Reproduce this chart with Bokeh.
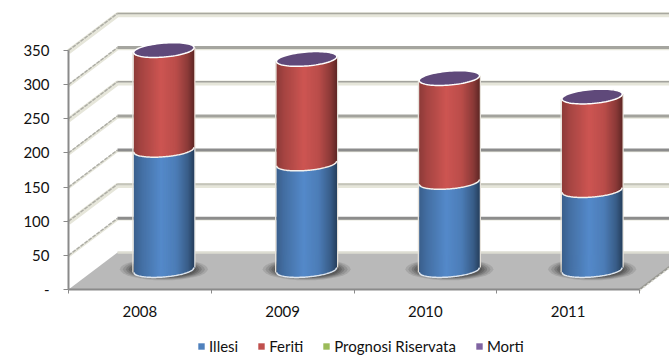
import numpy as np
from bokeh.embed import file_html
from bokeh.resources import INLINE
from bokeh.plotting import figure
from bokeh.models import Range1d, FixedTicker, Legend, LegendItem, LinearAxis

# Chart data
years = ["2008", "2009", "2010", "2011"]
illesi = [176, 156, 129, 117]
feriti = [145, 152, 151, 136]
prognosi = [0, 0, 0, 0]
morti = [1, 1, 1, 1]
value_ticks = [0, 50, 100, 150, 200, 250, 300, 350]

series_names = ["Illesi", "Feriti", "Prognosi Riservata", "Morti"]
series_colors = ["#4F81BD", "#C0504D", "#9BBB59", "#8064A2"]

# Plot geometry: one category is 142.75 px wide, one value unit 0.683 px tall
CAT_PX, VAL_PX = 142.75, 0.683
ORIGIN_X, ORIGIN_Y = 68, 289
DEPTH_X, DEPTH_Y = 49 / CAT_PX, 37 / VAL_PX
RADIUS = 30.2 / CAT_PX
ELL_B, ELL_TILT = 7.0 / VAL_PX, 2.4 / VAL_PX
X_END = (669 - ORIGIN_X) / CAT_PX

p = figure(width=669, height=355, output_backend="svg", toolbar_location=None,
           x_range=Range1d(-ORIGIN_X / CAT_PX, X_END),
           y_range=Range1d(-(355 - ORIGIN_Y) / VAL_PX, ORIGIN_Y / VAL_PX),
           x_axis_location=None, y_axis_location=None,
           min_border=0)
p.outline_line_color = None
p.grid.visible = False

# Wall gridlines: (dark colour, dark width, pale width) per level
grid_styles = {
    50: ("#8c8c8c", 3, 1),
    100: ("#c4c4ba", 2, 4),
    150: ("#8c8c8c", 3, 1),
    200: ("#a3a39d", 3, 2),
    250: ("#a3a39d", 1.5, 4),
    300: ("#a5a59f", 3, 2),
    350: ("#a8a89f", 1.5, 4),
}
for level, (dark, w_dark, w_pale) in grid_styles.items():
    xs = [0, DEPTH_X, X_END]
    ys = [level, level + DEPTH_Y, level + DEPTH_Y]
    p.line(xs, [y - 1.8 for y in ys], line_color="#e6e6da", line_width=w_pale + 1)
    p.line(xs[:2], ys[:2], line_color="#aeaea6", line_width=1.5, line_dash="4 1")
    p.line(xs[1:], ys[1:], line_color=dark, line_width=w_dark)

# Floor
floor_right = (X_END - 4) * DEPTH_Y / DEPTH_X
p.patch([0, DEPTH_X, X_END, X_END, 4], [0, DEPTH_Y, DEPTH_Y, floor_right, 0],
        fill_color="#b9b9b9", line_color=None)
p.line([DEPTH_X, X_END], [DEPTH_Y, DEPTH_Y], line_color="#dcdcd2", line_width=2.5)
p.line([4, X_END], [0, floor_right], line_color="#9a9a94", line_width=2)
p.line([4, X_END], [-1.5, floor_right - 1.5], line_color="#dcdcd2", line_width=1.5, line_dash="2 3")

left_axis = LinearAxis(ticker=FixedTicker(ticks=value_ticks), bounds=(0, 350),
                       fixed_location=0, major_label_overrides={0: "-"})
left_axis.axis_line_color = "#8a8a8a"
left_axis.axis_line_width = 2
left_axis.major_tick_line_color = "#8a8a8a"
left_axis.major_tick_out = 5
left_axis.major_tick_in = 0
left_axis.minor_tick_line_color = None
left_axis.major_label_standoff = 14
left_axis.major_label_text_font = "Lato"
left_axis.major_label_text_font_size = "15px"
left_axis.major_label_text_color = "#111111"
p.add_layout(left_axis, "left")

bottom_axis = LinearAxis(ticker=FixedTicker(ticks=[i + 0.5 for i in range(4)],
                                            minor_ticks=[0, 1, 2, 3, 4]),
                         bounds=(0, 4), fixed_location=0,
                         major_label_overrides={i + 0.5: y for i, y in enumerate(years)})
bottom_axis.axis_line_color = "#8a8a8a"
bottom_axis.axis_line_width = 2
bottom_axis.major_tick_line_color = None
bottom_axis.minor_tick_line_color = "#8a8a8a"
bottom_axis.minor_tick_out = 4
bottom_axis.minor_tick_in = 0
bottom_axis.major_label_standoff = 10
bottom_axis.major_label_text_font = "Lato"
bottom_axis.major_label_text_font_size = "15px"
bottom_axis.major_label_text_color = "#111111"
p.add_layout(bottom_axis, "below")


def shaded(color, factor):
    rgb = [int(color[k:k + 2], 16) for k in (1, 3, 5)]
    return "#%02x%02x%02x" % tuple(int(np.clip(c * factor, 0, 255)) for c in rgb)


def front_arc(u, level):
    """Value coordinate of the near edge of a disc at the given height."""
    return level - ELL_B * np.sqrt(np.clip(1 - u ** 2, 0, 1)) + ELL_TILT * u


def body(cx, low, high, color):
    # Painted left to right, each band reaching the far edge, so no seams show
    edges = np.linspace(-1, 1, 61)
    xs, ys, fills = [], [], []
    for u0, u1 in zip(edges[:-1], edges[1:]):
        uu = np.linspace(u0, 1, 40)
        xs.append(list(cx + RADIUS * uu) + list(cx + RADIUS * uu[::-1]))
        ys.append(list(front_arc(uu, high)) + list(front_arc(uu[::-1], low)))
        m = (u0 + u1) / 2
        f = np.interp(m, [-1, -0.75, -0.1, 0.4, 0.8, 1], [0.74, 0.86, 1.07, 0.97, 0.72, 0.5])
        fills.append(shaded(color, f))
    p.patches(xs, ys, fill_color=fills, line_color=None)


# Columns stand at mid depth of the floor, nudged to sit on its visual centre
base = DEPTH_Y / 2 + 1 / VAL_PX
centers = np.arange(4) + 0.5 + DEPTH_X / 2 - 0.5 / CAT_PX

# Shadows on the floor
for cx in centers:
    for scale, alpha in [(1.0, 0.14), (0.93, 0.18), (0.86, 0.24), (0.8, 0.3), (0.74, 0.36)]:
        p.ellipse([cx], [base + 1], width=2 * 44 / CAT_PX * scale, height=2 * 11 / VAL_PX * scale,
                  fill_color="#3c3c3c", fill_alpha=alpha, line_color=None)

# Series blocks inside the cylinders; they also provide the legend keys
legend_refs = {}
cumulative = np.full(4, float(base))
for name, color, values in zip(series_names, series_colors, [illesi, feriti, prognosi, morti]):
    highs = cumulative + np.array(values)
    legend_refs[name] = p.quad(left=centers - RADIUS * 0.5, right=centers + RADIUS * 0.5,
                               bottom=cumulative, top=highs, fill_color=color, line_color=None)
    cumulative = highs

# Cylinders
uu = np.linspace(-1, 1, 61)
tt = np.linspace(0, 2 * np.pi, 81)
for i, cx in enumerate(centers):
    blue_top = base + illesi[i]
    red_top = blue_top + feriti[i]
    top = red_top + prognosi[i] + morti[i]
    body(cx, base, blue_top, "#4F81BD")
    body(cx, blue_top, top, "#C0504D")
    # pale rims on the sides and along the seams
    for side in (-1, 1):
        edge = cx + side * (RADIUS + 0.8 / CAT_PX)
        p.line([edge, edge], [base + side * ELL_TILT, top + side * ELL_TILT],
               line_color="#e6e2da", line_width=1.2)
    p.line(cx + RADIUS * uu, front_arc(uu, base), line_color="#dfe6ee", line_width=1.5)
    p.line(cx + RADIUS * uu, front_arc(uu, blue_top), line_color="#f4f2ee", line_width=1.5)
    # top face
    ex = np.cos(tt)
    ey = top + ELL_B * np.sin(tt) + ELL_TILT * ex
    p.patch(cx + RADIUS * ex, ey, fill_color="#5f497a", line_color="#ffffff", line_width=1.5)

legend = Legend(items=[LegendItem(label=n, renderers=[legend_refs[n]]) for n in series_names],
                orientation="horizontal", location=(197, 0))
legend.background_fill_alpha = 0
legend.border_line_color = None
legend.padding = 0
legend.margin = 0
legend.spacing = 19
legend.label_standoff = 4
legend.glyph_width = 8
legend.glyph_height = 8
legend.label_height = 14
legend.label_text_font = "Lato"
legend.label_text_font_size = "15px"
legend.label_text_color = "#111111"
p.add_layout(legend, "center")

open("out.html", "w").write(file_html(p, INLINE))
